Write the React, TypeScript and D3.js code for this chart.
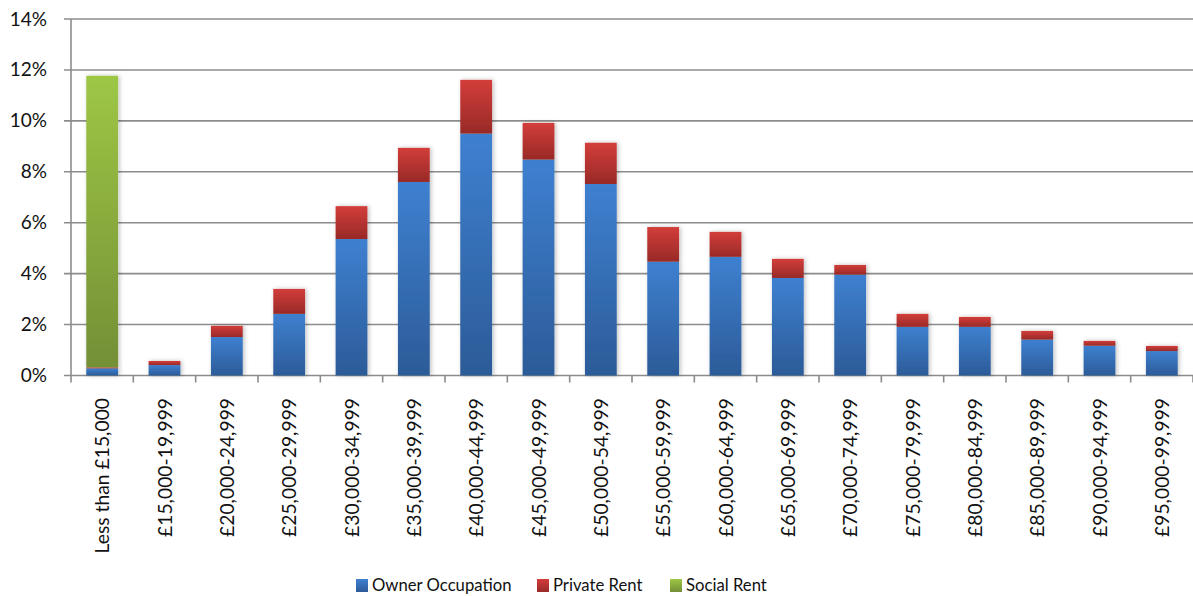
import React from "react";
import * as d3 from "d3";

const categories = [
  "Less than £15,000",
  "£15,000-19,999",
  "£20,000-24,999",
  "£25,000-29,999",
  "£30,000-34,999",
  "£35,000-39,999",
  "£40,000-44,999",
  "£45,000-49,999",
  "£50,000-54,999",
  "£55,000-59,999",
  "£60,000-64,999",
  "£65,000-69,999",
  "£70,000-74,999",
  "£75,000-79,999",
  "£80,000-84,999",
  "£85,000-89,999",
  "£90,000-94,999",
  "£95,000-99,999",
];

const ownerOccupation = [0.28, 0.41, 1.51, 2.42, 5.36, 7.6, 9.5, 8.48, 7.52, 4.47, 4.66, 3.83, 3.96, 1.91, 1.91, 1.41, 1.17, 0.96];
const privateRent = [0.04, 0.16, 0.44, 0.98, 1.29, 1.34, 2.11, 1.44, 1.62, 1.36, 0.98, 0.75, 0.38, 0.51, 0.39, 0.34, 0.19, 0.2];
const socialRent = [11.45, 0, 0, 0, 0, 0, 0, 0, 0, 0, 0, 0, 0, 0, 0, 0, 0, 0];

const seriesNames = ["Owner Occupation", "Private Rent", "Social Rent"];
const yTicks = [0, 2, 4, 6, 8, 10, 12, 14];

const W = 1193;
const H = 596;
const FONT = "Lato, 'Open Sans', sans-serif";

const gradients = [
  { id: "g-owner", top: "#3e80d0", bottom: "#2c5b98" },
  { id: "g-private", top: "#d33d3a", bottom: "#982a27" },
  { id: "g-social", top: "#9ec745", bottom: "#748f36" },
];

export default function App() {
  const left = 71;
  const right = 1193;
  const top = 19;
  const bottom = 375.5;

  const x = d3.scaleBand<string>().domain(categories).range([left, right]).paddingInner(0.49).paddingOuter(0.245);
  const y = d3.scaleLinear().domain([0, 14]).range([bottom, top]);

  const rows = categories.map((c, i) => ({
    cat: c,
    owner: ownerOccupation[i],
    private: privateRent[i],
    social: socialRent[i],
  }));
  const stack = d3.stack<any>().keys(["owner", "private", "social"]);
  const layers = stack(rows);

  const step = x.step();
  const boundaries = d3.range(categories.length + 1).map((i) => left + i * step);

  const legendItems = [
    { name: seriesNames[0], sq: 356, grad: "g-owner" },
    { name: seriesNames[1], sq: 537, grad: "g-private" },
    { name: seriesNames[2], sq: 670, grad: "g-social" },
  ];

  return (
    <svg width={W} height={H} style={{ position: "absolute", left: 0, top: 0, background: "#fff" }}>
      <defs>
        {gradients.map((g) => (
          <linearGradient key={g.id} id={g.id} x1="0" y1="0" x2="0" y2="1">
            <stop offset="0%" stopColor={g.top} />
            <stop offset="100%" stopColor={g.bottom} />
          </linearGradient>
        ))}
        <filter id="shadow" x="-20%" y="-5%" width="140%" height="110%">
          <feDropShadow dx="1.5" dy="0" stdDeviation="2" floodColor="#000" floodOpacity="0.25" />
        </filter>
      </defs>

      {/* gridlines */}
      {yTicks.map((t) => (
        <line key={t} x1={left - 7} x2={right} y1={y(t)} y2={y(t)} stroke="#8c8c8c" strokeWidth={1.6} />
      ))}
      {/* y axis line */}
      <line x1={left} x2={left} y1={top} y2={bottom} stroke="#8c8c8c" strokeWidth={1.6} />
      {/* x ticks */}
      {boundaries.map((b, i) => (
        <line key={i} x1={b} x2={b} y1={bottom} y2={bottom + 7} stroke="#8c8c8c" strokeWidth={1.6} />
      ))}

      {/* y labels */}
      {yTicks.map((t) => (
        <text key={t} x={47} y={y(t) + 6.5} textAnchor="end" fontFamily={FONT} fontSize={19} fill="#111">
          {t}%
        </text>
      ))}

      {/* bars */}
      <g filter="url(#shadow)">
        {layers.map((layer, li) =>
          layer.map((d, i) => {
            const h = y(d[0]) - y(d[1]);
            if (h <= 0) return null;
            return (
              <rect
                key={li + "-" + i}
                x={x(categories[i])}
                y={y(d[1])}
                width={x.bandwidth()}
                height={h}
                fill={`url(#${gradients[li].id})`}
              />
            );
          })
        )}
      </g>

      {/* x labels */}
      {categories.map((c) => {
        const cx = (x(c) as number) + x.bandwidth() / 2 + 7;
        return (
          <text
            key={c}
            transform={`translate(${cx},398) rotate(-90)`}
            textAnchor="end"
            fontFamily={FONT}
            fontSize={19.3}
            fill="#111"
          >
            {c}
          </text>
        );
      })}

      {/* legend */}
      {legendItems.map((l) => (
        <g key={l.name}>
          <rect x={l.sq} y={579} width={12} height={13} fill={`url(#${l.grad})`} />
          <text x={l.sq + 16} y={591} fontFamily={FONT} fontSize={16.7} fill="#111">
            {l.name}
          </text>
        </g>
      ))}
    </svg>
  );
}
